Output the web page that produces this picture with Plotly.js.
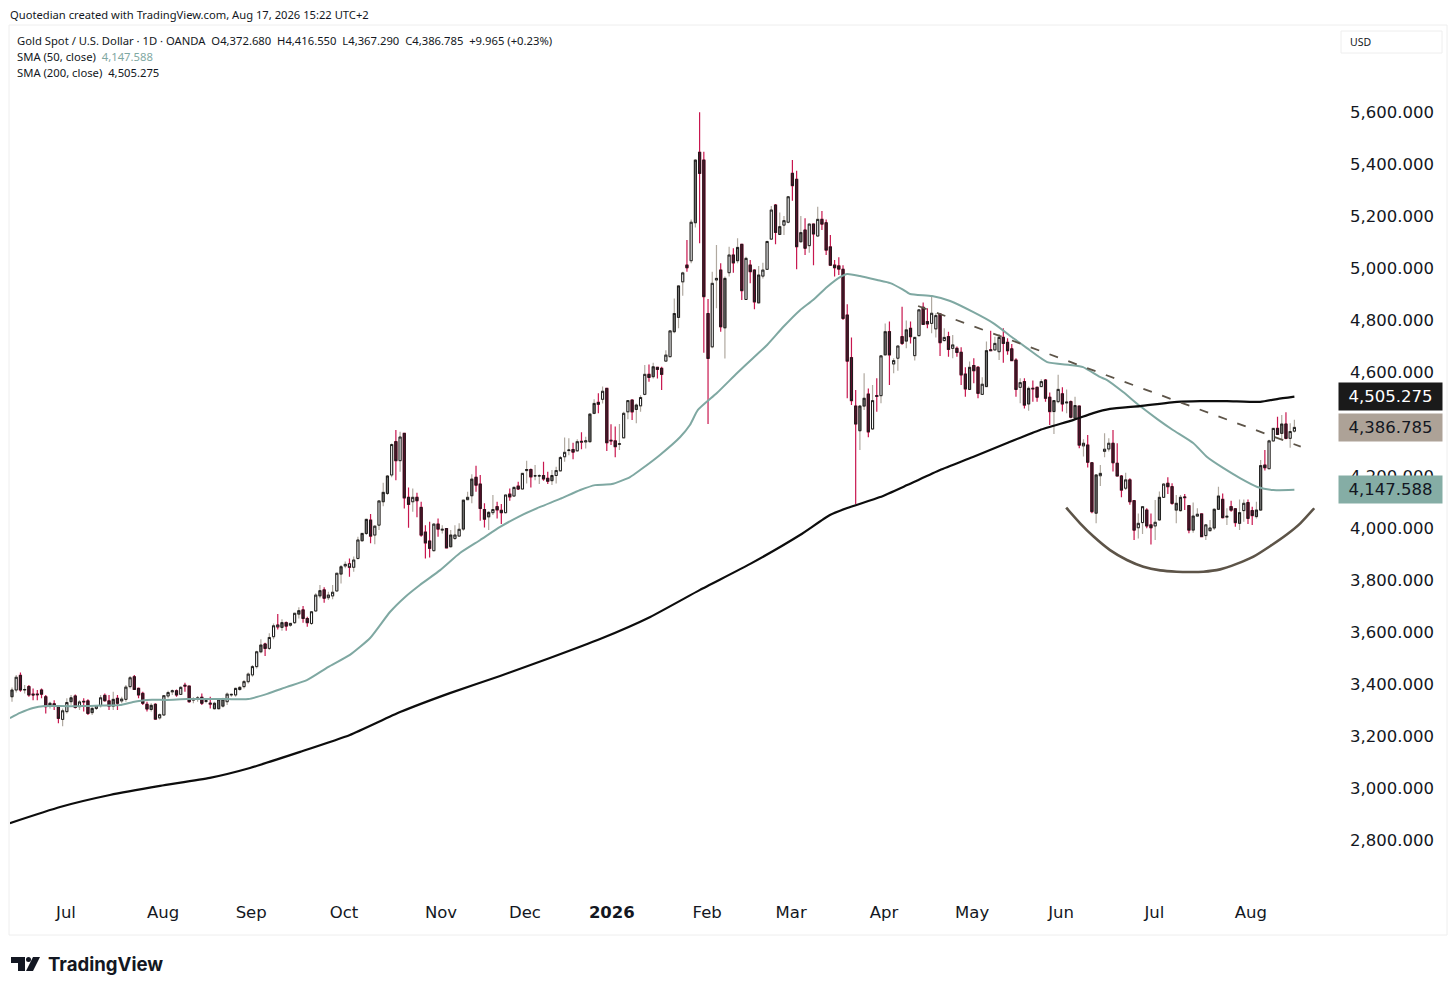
<!DOCTYPE html>
<html>
<head>
<meta charset="utf-8">
<title>Gold Spot / U.S. Dollar</title>
<script src="https://cdn.plot.ly/plotly-3.0.1.min.js"></script>
<style>
  body { margin: 0; background: #fff; }
  #chart { width: 1456px; height: 992px; }
</style>
</head>
<body>
<div id="chart"></div>
<script>
// Daily candles, oldest first, x is the bar number
const opens = [
  3351,3377,3433,3377,3390,3361,3361,3377,3351,3315,
  3324,3317,3264,3294,3332,3354,3313,3331,3335,3290,
  3306,3317,3356,3335,3315,3345,3335,3341,3390,3428,
  3383,3364,3322,3302,3322,3270,3281,3354,3370,3374,
  3360,3392,3392,3338,3341,3349,3333,3323,3305,3305,
  3315,3332,3358,3358,3379,3390,3409,3435,3467,3524,
  3554,3537,3582,3620,3618,3636,3626,3636,3669,3685,
  3652,3633,3681,3739,3762,3732,3739,3758,3823,3854,
  3862,3849,3883,3951,3979,4030,3973,4011,4101,4133,
  4204,4332,4259,4364,4118,4101,4118,4079,3984,3950,
  3913,4015,3992,3998,3928,3960,3969,3996,4109,4124,
  4195,4169,4071,4043,4059,4082,4068,4059,4130,4123,
  4161,4150,4221,4225,4200,4200,4202,4191,4182,4202,
  4220,4274,4298,4302,4297,4330,4331,4332,4441,4483,
  4495,4537,4335,4335,4322,4347,4447,4492,4456,4470,
  4514,4591,4582,4618,4614,4642,4659,4755,4810,4947,
  5011,5028,5174,5445,5415,4825,4697,4954,4992,4770,
  4982,5050,5028,5091,4879,5011,4992,4866,4969,4995,
  5111,5242,5129,5165,5176,5364,5341,5101,5146,5086,
  5169,5123,5187,5174,5081,5011,5008,4995,4819,4655,
  4469,4374,4469,4515,4381,4506,4509,4666,4755,4631,
  4653,4736,4719,4768,4663,4740,4849,4794,4787,4766,
  4823,4721,4736,4691,4691,4676,4592,4533,4625,4618,
  4514,4544,4682,4685,4678,4733,4714,4689,4646,4541,
  4563,4477,4535,4541,4544,4569,4503,4448,4486,4516,
  4481,4486,4422,4469,4316,4319,4251,4057,4201,4295,
  4304,4326,4249,4200,4153,4185,4105,4001,4021,4069,
  4012,4008,4031,4118,4172,4159,4069,4067,4117,4086,
  3992,4046,4054,3971,3990,4000,4072,4110,4042,4082,
  4074,4018,4067,4098,4067,4044,4069,4242,4228,4335,
  4383,4364,4400,4345,4372.68
];
const highs = [
  3387,3435,3444,3396,3396,3383,3377,3383,3358,3332,
  3338,3319,3306,3345,3358,3360,3338,3345,3341,3313,
  3319,3358,3364,3358,3370,3358,3351,3396,3431,3435,
  3387,3370,3332,3326,3326,3287,3358,3374,3379,3379,
  3392,3405,3392,3349,3354,3364,3341,3351,3332,3345,
  3347,3367,3364,3387,3392,3415,3444,3473,3528,3572,
  3559,3595,3633,3669,3649,3640,3636,3674,3695,3700,
  3659,3681,3749,3781,3772,3755,3781,3828,3858,3871,
  3883,3890,3966,3982,4037,4054,4011,4107,4174,4204,
  4325,4377,4370,4366,4156,4152,4136,4101,4011,4024,
  4018,4037,4011,3998,3992,4011,4018,4110,4139,4207,
  4239,4204,4095,4065,4127,4101,4092,4127,4152,4161,
  4178,4213,4259,4229,4242,4207,4255,4216,4223,4236,
  4277,4348,4345,4328,4341,4368,4351,4441,4495,4518,
  4544,4537,4399,4390,4400,4447,4490,4495,4479,4511,
  4627,4629,4636,4620,4620,4684,4761,4883,4934,4986,
  5108,5187,5418,5599,5447,4881,4986,5088,5018,4967,
  5082,5076,5114,5091,5043,5031,4995,5008,5020,5105,
  5238,5246,5213,5200,5277,5415,5374,5200,5191,5169,
  5169,5236,5219,5187,5127,5031,5041,5011,4861,4733,
  4531,4473,4595,4537,4550,4576,4662,4787,4794,4653,
  4700,4851,4798,4794,4733,4839,4867,4845,4890,4826,
  4826,4768,4755,4742,4698,4695,4618,4640,4653,4623,
  4580,4717,4759,4736,4746,4768,4730,4708,4653,4576,
  4576,4544,4567,4544,4572,4573,4521,4492,4589,4541,
  4533,4490,4505,4469,4341,4358,4251,4208,4242,4364,
  4345,4377,4326,4204,4213,4191,4108,4056,4085,4076,
  4056,4108,4140,4172,4195,4172,4127,4127,4131,4086,
  4098,4076,4056,4015,4031,4076,4159,4133,4076,4105,
  4076,4110,4110,4110,4082,4101,4262,4300,4339,4386,
  4428,4435,4445,4403,4416.55
];
const lows = [
  3332,3367,3370,3364,3351,3338,3338,3345,3287,3306,
  3300,3249,3238,3287,3319,3306,3300,3294,3281,3281,
  3300,3310,3332,3300,3300,3300,3326,3332,3383,3377,
  3345,3319,3294,3294,3264,3264,3277,3345,3358,3351,
  3358,3370,3328,3326,3332,3319,3326,3306,3302,3302,
  3310,3319,3351,3351,3374,3383,3402,3428,3460,3518,
  3508,3531,3572,3610,3605,3605,3620,3631,3652,3636,
  3620,3627,3678,3730,3713,3723,3726,3755,3787,3845,
  3813,3832,3879,3947,3973,3941,3938,3992,4084,4127,
  4195,4184,4216,4075,4001,4063,4041,3966,3883,3887,
  3909,3966,3979,3922,3925,3954,3966,3989,4107,4095,
  4139,4028,4002,3992,4050,4037,4015,4056,4105,4120,
  4146,4148,4171,4156,4184,4169,4182,4169,4165,4171,
  4216,4255,4280,4264,4293,4303,4306,4328,4438,4441,
  4479,4296,4319,4272,4300,4345,4418,4415,4403,4447,
  4511,4563,4575,4575,4531,4640,4656,4749,4768,4893,
  4986,5018,5156,5095,4674,4400,4691,4845,4755,4652,
  4967,4982,5018,4877,4877,4941,4841,4864,4960,4992,
  5108,5091,5127,5127,5172,5259,4995,5097,5050,5059,
  5011,5120,5146,5050,5008,4967,4973,4800,4499,4473,
  4092,4300,4454,4349,4377,4447,4480,4666,4550,4595,
  4605,4704,4691,4710,4644,4736,4781,4768,4749,4733,
  4662,4717,4659,4653,4659,4550,4505,4531,4557,4499,
  4512,4544,4682,4682,4646,4636,4666,4642,4505,4480,
  4460,4451,4486,4486,4541,4486,4396,4362,4480,4448,
  4441,4422,4416,4307,4275,4233,4057,4018,4162,4272,
  4294,4217,4198,4118,4146,4089,3954,3960,3977,3999,
  3937,3954,4028,4117,4131,4089,4018,4063,4069,3980,
  3982,4044,3964,3954,3986,3992,4069,4037,4012,4063,
  4005,3992,4024,4015,4012,4037,4067,4221,4226,4332,
  4358,4341,4341,4309,4367.29
];
const closes = [
  3377,3426,3377,3379,3358,3358,3359,3361,3313,3326,
  3315,3268,3297,3329,3347,3310,3331,3333,3287,3306,
  3315,3347,3336,3315,3341,3326,3342,3388,3424,3379,
  3358,3326,3304,3318,3265,3282,3355,3367,3374,3358,
  3387,3395,3332,3342,3347,3326,3336,3326,3326,3342,
  3342,3361,3360,3383,3387,3409,3438,3467,3524,3550,
  3537,3579,3624,3627,3636,3623,3633,3672,3682,3652,
  3636,3678,3742,3759,3730,3742,3753,3826,3851,3860,
  3849,3877,3954,3979,4033,3969,4007,4104,4137,4200,
  4321,4259,4350,4116,4091,4118,4105,3973,3943,3922,
  4015,3996,3995,3924,3973,3973,3995,4107,4118,4188,
  4165,4075,4034,4060,4071,4070,4059,4127,4120,4156,
  4150,4210,4225,4197,4201,4201,4189,4180,4202,4221,
  4271,4291,4300,4292,4332,4333,4335,4438,4479,4476,
  4526,4328,4337,4313,4324,4441,4490,4447,4473,4502,
  4591,4579,4620,4610,4591,4665,4758,4825,4931,4981,
  5001,5176,5415,5364,4890,4652,4941,4960,4774,4960,
  5050,5020,5079,4913,5037,4986,4870,4973,4992,5102,
  5223,5137,5159,5182,5274,5317,5082,5136,5076,5169,
  5131,5187,5169,5069,5011,5001,4996,4806,4642,4490,
  4400,4469,4499,4370,4490,4509,4662,4755,4666,4644,
  4700,4710,4762,4736,4733,4839,4783,4785,4826,4817,
  4713,4733,4687,4704,4675,4589,4535,4618,4605,4518,
  4553,4682,4685,4710,4733,4710,4682,4644,4533,4559,
  4473,4537,4537,4503,4563,4499,4448,4490,4533,4477,
  4484,4426,4471,4319,4326,4253,4063,4204,4210,4303,
  4326,4251,4200,4146,4185,4101,3992,4018,4082,4008,
  4001,4022,4118,4169,4159,4095,4095,4118,4119,3992,
  4046,4053,3967,4012,4000,4072,4123,4040,4045,4069,
  4021,4059,4095,4037,4048,4069,4240,4232,4335,4383,
  4360,4400,4345,4371,4386.785
];
// W up, P up with a red wick, G filled up, M down
const candleKinds = (
  "GWMWMMMMMG" + "MMWWGMWPMG" + "WWMMGMWWWM" + "MMMGMWWWWM" + "WPMWWMWPGG" +
  "GWWWGWWWWG" + "MWWPGMWWGM" + "MWWGMWWWGW" + "PWWGGMWWGG" + "WMWMMWMMMM" +
  "WMWMGWWGWG" + "MMMGWMMWMW" + "MWWMWWMMGW" + "WWWMWPWGGM" + "WMPMWWWMGW" +
  "WMGMMWWGGW" + "MWGMMMWWMG" + "WMGMWMMGWW" + "WMGWWMMGMW" + "MWMMMMMMMM" +
  "MGGMWPWGMW" + "WMGMWWMMWW" + "MWMWMMMGMM" + "WGPWWMMMMW" + "MGPMWMMGWM" +
  "WMGMWMMGWW" + "WMMMWMMWWM" + "MWGWMMGGPM" + "GWMWWGGMWM" + "MGWMMGGMWW" +
  "MGMWW"
).split("");

// Moving averages, read at a bar number
const sma50Bars = [-0.5,1.9,5,7.8,11.4,16.1,20.9,25.6,28.7,32,36.7,41.5,46.2,51,56,60.5,65.2,69.9,74.9,80.1,84.9,89.6,93.2,96.7,101.5,106.2,111,115.7,120.4,125.2,129.9,134.7,138.2,142.2,146.5,148.9,153.6,158.4,160.7,162.6,167.1,171.9,175.7,179,182.8,186.8,189.9,193.2,196.3,198,201,205.1,208.2,211,212.9,218.1,222.4,227.8,232.6,237.3,240.6,245.4,250.8,253.9,257.9,259.6,263.4,267.4,271.5,275.2,280,283.3,287.1,291.1,295.2,299,304];
const sma50 = [3269,3289,3308,3315,3315,3315,3317,3319,3331,3339,3339,3342,3342,3342,3342,3362,3389,3415,3465,3512,3577,3677,3735,3781,3838,3904,3954,4004,4046,4081,4112,4146,4165,4169,4196,4223,4281,4350,4396,4454,4519,4596,4654,4704,4773,4838,4877,4927,4965,4977,4969,4954,4942,4919,4900,4892,4873,4831,4788,4731,4692,4638,4627,4619,4581,4569,4523,4469,4419,4377,4327,4273,4231,4192,4158,4146,4147.588];
const sma200Bars = [-0.5,11.4,23.2,35.1,46.9,56.4,68.3,80.1,92,103.8,115.7,127.5,139.4,151.3,163.1,175,186.8,193.9,198,205.8,212.2,220,227.8,235.9,243.7,251.5,256.3,260.3,267.4,276.2,281.6,288,295.9,299.9,304];
const sma200 = [2865,2927,2973,3008,3039,3077,3139,3204,3292,3365,3431,3500,3573,3658,3762,3862,3973,4050,4077,4119,4165,4223,4273,4327,4377,4415,4442,4458,4469,4485,4488,4488,4485,4496,4505.275];

// Drawings on the chart
const trendBars = [214.8,305.5];
const trendPrices = [4854,4313];
const arcBars = [249.9,253.2,256.4,260.3,264.3,268.2,272.2,276.1,279.3,282.4,286.4,290.3,294.3,298.3,302.2,305.4,308.7];
const arcPrices = [4078,4018,3967,3915,3877,3851,3837,3832,3831,3832,3841,3862,3890,3931,3975,4018,4076];

// Axis ticks, 4,400 sits under the close tag so it is left out
const monthLabels = ["Jul","Aug","Sep","Oct","Nov","Dec","<b>2026</b>","Feb","Mar","Apr","May","Jun","Jul","Aug"];
const monthBars = [12.8,35.8,56.7,78.7,101.7,121.6,142.2,164.8,184.7,206.7,227.6,248.7,270.8,293.7];
const priceTicks = [2800,3000,3200,3400,3600,3800,4000,4200,4600,4800,5000,5200,5400,5600];

// Plot box in page pixels, everything in paper coords goes through these
const W = 1456, H = 992;
const box = { l: 10, r: 1337, t: 25, b: 890 };
const xp = x => (x - box.l) / (box.r - box.l);
const yp = y => (box.b - y) / (box.b - box.t);

const BODY = "#1c1c1c";
const RED = "#c8174f";
const GREY = "#b0a9a0";
const TEAL = "#7fa8a2";
const BROWN = "#5d5448";

function barsOf(kinds) {
    let res = [];
    candleKinds.forEach((k, i) => { if (kinds.includes(k)) res.push(i); });
    return res;
}

// Wicks, the body traces go on top of them
function wickTrace(kinds, color) {
    let bars = barsOf(kinds);
    let style = { line: { color: color, width: 1.2 }, fillcolor: color };
    return {
        type: "candlestick", x: bars,
        open: bars.map(i => opens[i]), high: bars.map(i => highs[i]),
        low: bars.map(i => lows[i]), close: bars.map(i => closes[i]),
        increasing: style, decreasing: style,
        whiskerwidth: 0, hoverinfo: "skip", showlegend: false
    };
}

function bodyTrace(kinds, fill) {
    let bars = barsOf(kinds);
    let style = { line: { color: BODY, width: 1 }, fillcolor: fill };
    return {
        type: "candlestick", x: bars,
        open: bars.map(i => opens[i]), close: bars.map(i => closes[i]),
        high: bars.map(i => Math.max(opens[i], closes[i])),
        low: bars.map(i => Math.min(opens[i], closes[i])),
        increasing: style, decreasing: style,
        whiskerwidth: 0, hoverinfo: "skip", showlegend: false
    };
}

function lineTrace(x, y, color, width, extra) {
    return {
        type: "scatter", mode: "lines", x: x, y: y,
        line: Object.assign({ color: color, width: width }, extra),
        hoverinfo: "skip", showlegend: false
    };
}

const traces = [
    wickTrace("GW", GREY),
    wickTrace("MP", RED),
    bodyTrace("WP", "#ffffff"),
    bodyTrace("G", "#757573"),
    bodyTrace("M", "#5c0f2b"),
    lineTrace(sma50Bars, sma50, TEAL, 2, { shape: "spline", smoothing: 0.5 }),
    lineTrace(sma200Bars, sma200, "#0d0d0d", 2.2, { shape: "spline", smoothing: 0.5 }),
    lineTrace(trendBars, trendPrices, BROWN, 1.8, { dash: "9px,11px" }),
    lineTrace(arcBars, arcPrices, BROWN, 2.6, { shape: "spline", smoothing: 0.6 })
];

const UI_FONT = "Noto Sans, sans-serif";
const AXIS_FONT = "DejaVu Sans, sans-serif";

function label(x, y, text, size, color, extra) {
    return Object.assign({
        xref: "paper", yref: "paper", x: xp(x), y: yp(y), text: text,
        showarrow: false, xanchor: "left", yanchor: "middle", align: "left",
        font: { family: UI_FONT, size: size, color: color }
    }, extra);
}

// Price tags sit on the value, and cover the tick under them
function priceTag(value, bg, color) {
    let txt = value.toLocaleString("en-US", { minimumFractionDigits: 3 });
    return {
        xref: "paper", yref: "y", x: xp(1338), y: value, text: txt,
        showarrow: false, xanchor: "left", yanchor: "middle", align: "center",
        width: 101, height: 25, bgcolor: bg,
        font: { family: AXIS_FONT, size: 16.5, color: color }
    };
}

const annotations = [
    label(8, 14, "Quotedian created with TradingView.com, Aug 17, 2026 15:22 UTC+2", 11.2, "#131722"),
    label(15, 40, "Gold Spot / U.S. Dollar · 1D · OANDA &nbsp;O4,372.680 &nbsp;H4,416.550 &nbsp;L4,367.290 &nbsp;C4,386.785 &nbsp;+9.965 (+0.23%)", 11.25, "#131722"),
    label(15, 56, "SMA (50, close) &nbsp;<span style=\"color:" + TEAL + "\">4,147.588</span>", 11.25, "#131722"),
    label(15, 72, "SMA (200, close) &nbsp;4,505.275", 11.25, "#131722"),
    label(1348, 42, "USD", 10.5, "#131722"),
    label(46, 964, "<b>TradingView</b>", 18.6, "#131722", { font: { family: "Inter, sans-serif", size: 18.6, color: "#131722" } }),
    priceTag(4505.275, "#1a1a1a", "#ffffff"),
    priceTag(4386.785, "#ada297", "#131722"),
    priceTag(4147.588, "#85ada5", "#131722")
];

function rect(x0, y0, x1, y1, extra) {
    return Object.assign({
        type: "rect", xref: "paper", yref: "paper", layer: "below",
        x0: xp(x0), x1: xp(x1), y0: yp(y0), y1: yp(y1),
        line: { color: "#eeeeee", width: 1 }
    }, extra);
}

function logoPath(pts) {
    return "M" + pts.map(p => xp(p[0]) + "," + yp(p[1])).join("L") + "Z";
}

const logoShape = { type: "path", xref: "paper", yref: "paper", fillcolor: "#131722", line: { width: 0 } };

const shapes = [
    rect(9, 25, 1447, 935),
    rect(1341, 31, 1442, 53),
    Object.assign({ path: logoPath([[11, 957], [25, 957], [25, 971], [18, 971], [18, 963], [11, 963]]) }, logoShape),
    Object.assign({ path: logoPath([[33, 957], [40, 957], [33, 971], [26, 971]]) }, logoShape),
    { type: "circle", xref: "paper", yref: "paper", x0: xp(26), x1: xp(31), y0: yp(962), y1: yp(957), fillcolor: "#131722", line: { width: 0 } }
];

const layout = {
    width: W, height: H,
    margin: { l: box.l, r: W - box.r, t: box.t, b: H - box.b, pad: 0 },
    paper_bgcolor: "#ffffff", plot_bgcolor: "#ffffff",
    showlegend: false,
    boxgap: 0.3,
    xaxis: {
        type: "linear", range: [-0.474, 314.1], fixedrange: true,
        rangeslider: { visible: false },
        tickmode: "array", tickvals: monthBars, ticktext: monthLabels,
        showgrid: false, zeroline: false, showline: false, ticks: "",
        ticklabelstandoff: 10,
        tickfont: { family: AXIS_FONT, size: 16.5, color: "#131722" }
    },
    yaxis: {
        type: "linear", side: "right", range: [2607.8, 5934.6], fixedrange: true,
        tickmode: "array", tickvals: priceTicks, tickformat: ",.3f",
        showgrid: false, zeroline: false, showline: false, ticks: "",
        ticklabelstandoff: 12,
        tickfont: { family: AXIS_FONT, size: 16.5, color: "#131722" }
    },
    annotations: annotations,
    shapes: shapes
};

Plotly.newPlot("chart", traces, layout, { staticPlot: true, displayModeBar: false });
</script>
</body>
</html>
